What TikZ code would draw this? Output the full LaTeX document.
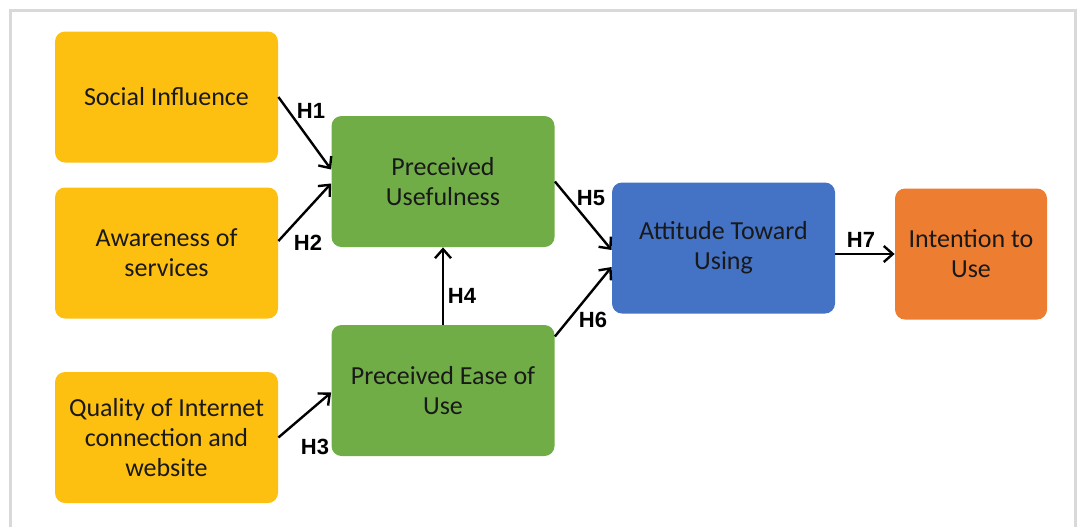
\documentclass[tikz,border=0pt]{standalone}
\usepackage{fontspec}
\setmainfont{Carlito}
\newfontfamily\hfont{Liberation Sans}
\usepackage{xcolor}
\usetikzlibrary{arrows.meta,positioning}

\definecolor{boxyellow}{HTML}{FEC010}
\definecolor{boxgreen}{HTML}{70AD47}
\definecolor{boxblue}{HTML}{4472C4}
\definecolor{boxorange}{HTML}{ED7D31}
\definecolor{framegray}{HTML}{D9D9D9}

\begin{document}
\begin{tikzpicture}[
    x=0.5pt, y=-0.5pt,
    every node/.style={font=\fontsize{13}{15}\selectfont, text=black!90},
    box/.style={rounded corners=5pt, minimum width=111.5pt, minimum height=65.5pt, align=center, inner sep=2pt},
    factor/.style={box, fill=boxyellow},
    percv/.style={box, fill=boxgreen},
    attit/.style={box, fill=boxblue},
    intent/.style={box, fill=boxorange, minimum width=76pt},
    hlbl/.style={font=\hfont\bfseries\fontsize{11}{13}\selectfont, text=black, inner sep=0pt},
    arr/.style={-{Straight Barb[length=4.5pt,width=8pt]}, line width=1.2pt},
]
\useasboundingbox (0,0) rectangle (1082,526);
% Outer frame (open at the bottom)
\draw[framegray, line width=1.5pt] (10.5,530) -- (10.5,10.5) -- (1075.5,10.5) -- (1075.5,530);

% External factors (left column)
\node[factor] (social) at (166.5,97) {Social Influence};
\node[factor] (aware) at (166.5,253) {Awareness of\\services};
\node[factor] (quality) at (166.5,437.5) {Quality of Internet\\connection and\\website};

% Perceptions (middle column)
\node[percv] (useful) at (443,181.5) {Preceived\\Usefulness};
\node[percv] (ease) at (443,390.5) {Preceived Ease of\\Use};

% Attitude and intention (right)
\node[attit] (attitude) at (723.5,248) {Attitude Toward\\Using};
\node[intent] (intention) at (971,254) {Intention to\\Use};

% Hypothesis paths
\draw[arr] (social.east) -- ([yshift=6pt]useful.west);
\draw[arr] ([yshift=6pt]aware.east) -- ([yshift=-1pt]useful.west);
\draw[arr] (quality.east) -- ([yshift=-1pt]ease.west);
\draw[arr] (ease.north) -- (useful.south);
\draw[arr] (useful.east) -- ([yshift=-1pt]attitude.west);
\draw[arr] ([yshift=27pt]ease.east) -- ([yshift=-9.5pt]attitude.west);
\draw[arr] (attitude.east |- intention.west) -- (intention.west);

% Hypothesis labels
\node[hlbl] (h1) at (311,111) {H1};
\node[hlbl] (h2) at (308,243) {H2};
\node[hlbl] (h3) at (315,447) {H3};
\node[hlbl] (h4) at (462,296) {H4};
\node[hlbl] (h5) at (591,198) {H5};
\node[hlbl] (h6) at (593,320) {H6};
\node[hlbl] (h7) at (861,240) {H7};

\end{tikzpicture}
\end{document}
